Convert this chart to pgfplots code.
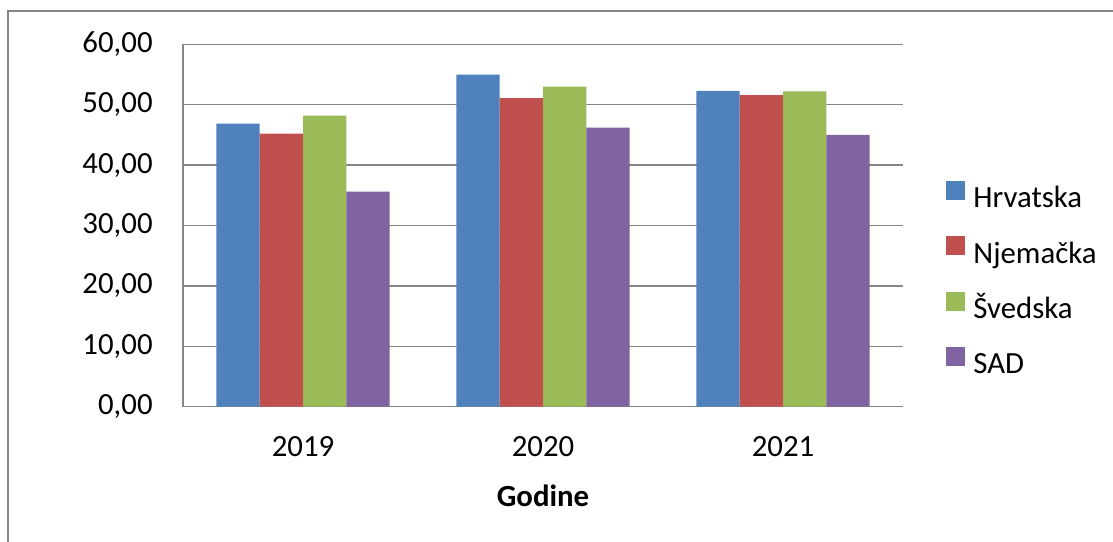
\documentclass[border=0pt]{standalone}
\usepackage{fontspec}
\setmainfont{Carlito}
\usepackage{pgfplots}
\pgfplotsset{compat=1.18}

\definecolor{cHr}{HTML}{4F81BD}
\definecolor{cDe}{HTML}{C0504D}
\definecolor{cSe}{HTML}{9BBB59}
\definecolor{cUs}{HTML}{8064A2}
\definecolor{cGrid}{HTML}{868686}

\begin{document}
\begin{tikzpicture}
\useasboundingbox (0pt,0pt) rectangle (556.5pt,270.5pt);
\begin{axis}[
    at={(91.5pt,67.15pt)}, anchor=south west,
    scale only axis,
    width=360pt, height=181.2pt,
    font=\fontsize{15.4}{18}\selectfont,
    ybar=0pt, bar width=21.65pt,
    xmin=-0.5, xmax=2.5,
    ymin=0, ymax=60,
    xtick={0,1,2}, xticklabels={2019,2020,2021},
    ytick={0,10,...,60},
    major tick length=0pt,
    axis x line*=bottom, axis y line*=left,
    axis line style={cGrid, line width=0.75pt},
    ymajorgrids,
    grid style={cGrid, line width=0.75pt},
    /pgf/number format/.cd, fixed, fixed zerofill, precision=2, use comma, assume math mode=true,
    /pgfplots/.cd,
    yticklabel style={anchor=east, inner sep=0pt, xshift=-15pt},
    xticklabel style={anchor=base, inner sep=0pt, yshift=-25pt},
    xlabel={\textbf{Godine}},
    xlabel style={at={(axis description cs:0.5,0)}, anchor=base, inner sep=0pt, yshift=-49.75pt},
    legend style={
        at={(axis description cs:1.0594,0.347)}, anchor=west,
        draw=none, fill=none, inner sep=0pt,
        row sep=10.8pt,
        nodes={inner sep=0pt, text height=11.5pt, text depth=3.5pt},
        /tikz/every odd column/.append style={column sep=4.4pt},
    },
    legend cell align=left,
    legend image code/.code={\fill[#1] (0pt,0pt) rectangle (9.2pt,9.4pt);},
]
\addplot[fill=cHr, draw=none] coordinates {(0,46.85) (1,55.0) (2,52.3)};
\addlegendentry{Hrvatska}
\addplot[fill=cDe, draw=none] coordinates {(0,45.2) (1,51.1) (2,51.6)};
\addlegendentry{Njemačka}
\addplot[fill=cSe, draw=none] coordinates {(0,48.2) (1,53.0) (2,52.2)};
\addlegendentry{Švedska}
\addplot[fill=cUs, draw=none] coordinates {(0,35.6) (1,46.2) (2,45.0)};
\addlegendentry{SAD}
\node[font=\fontsize{15.4}{18}\selectfont\bfseries, anchor=base, inner sep=0pt]
    at (rel axis cs:0,0) [xshift=-62.75pt, yshift=84.5pt] {\%};
\end{axis}
\draw[cGrid, line width=0.75pt] (4pt,-5pt) -- (4pt,265pt) -- (600pt,265pt);
\end{tikzpicture}
\end{document}
